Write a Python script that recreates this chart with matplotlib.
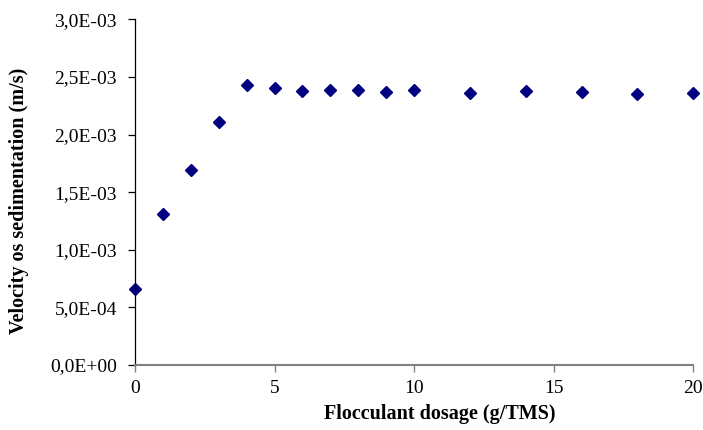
import numpy as np
from matplotlib import pyplot as plt
from matplotlib.ticker import FuncFormatter, MultipleLocator

# flocculant dosage (g/TMS) and settling velocity (m/s)
dosage = [0, 1, 2, 3, 4, 5, 6, 7, 8, 9, 10, 12, 14, 16, 18, 20]
velocity = [6.62e-4, 1.313e-3, 1.69e-3, 2.111e-3, 2.43e-3, 2.406e-3, 2.38e-3,
            2.389e-3, 2.389e-3, 2.372e-3, 2.389e-3, 2.36e-3, 2.378e-3,
            2.369e-3, 2.352e-3, 2.363e-3]

plt.rcParams['font.family'] = ['Liberation Serif', 'DejaVu Serif']

fig = plt.figure(figsize=(7.03, 4.30), dpi=100)
ax = fig.add_axes([0.192, 0.151, 0.794, 0.804])

ax.plot(dosage, velocity, 'D', color='#000080', markersize=6.5, clip_on=False)

ax.set_xlim(0, 20)
ax.set_ylim(0, 3.0e-3)
ax.xaxis.set_major_locator(MultipleLocator(5))
ax.yaxis.set_major_locator(MultipleLocator(5e-4))
ax.yaxis.set_major_formatter(FuncFormatter(lambda v, p: f"{v:.1E}".replace('.', ',')))

for s in ['top', 'right']:
    ax.spines[s].set_visible(False)
ax.spines['left'].set_color('black')
ax.spines['left'].set_linewidth(0.9)
ax.spines['bottom'].set_color('#808080')
ax.spines['bottom'].set_linewidth(1.5)

ax.tick_params(axis='y', direction='out', length=5, width=0.9, labelsize=14, pad=8)
ax.tick_params(axis='x', direction='out', length=5, width=1, color='#808080', labelsize=14, pad=6)

ax.set_xlabel('Flocculant dosage (g/TMS)', fontsize=14.5, fontweight='bold')
ax.set_ylabel('Velocity os sedimentation (m/s)', fontsize=14.5, fontweight='bold')
ax.xaxis.set_label_coords(0.546, -0.113)
ax.yaxis.set_label_coords(-0.19, 0.474)

fig.savefig('out.png', dpi=100)
